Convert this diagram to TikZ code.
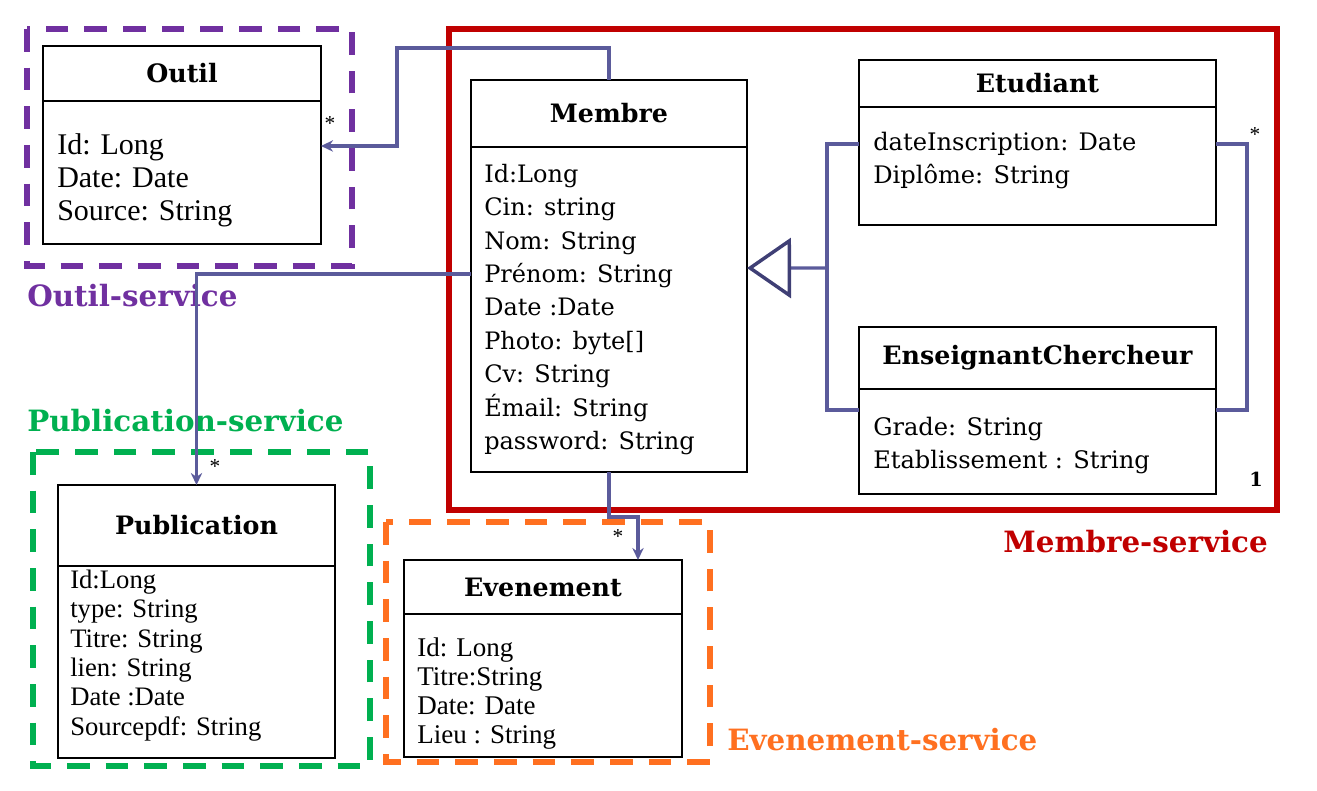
\documentclass[tikz,border=0pt]{standalone}
\usepackage{fontspec}
\setmainfont{Liberation Serif}
\newfontfamily\titlefont{DejaVu Serif}
\usetikzlibrary{arrows.meta,positioning}

\definecolor{colOutil}{HTML}{7030A0}
\definecolor{colMembre}{HTML}{C00000}
\definecolor{colPubl}{HTML}{00B050}
\definecolor{colEvt}{HTML}{FF7020}
\definecolor{colLien}{HTML}{5B5B9B}
\definecolor{colTri}{HTML}{3F3F75}

\begin{document}
\begin{tikzpicture}[x=0.75pt,y=-0.75pt,>={Stealth[length=9pt,width=8.5pt]},
	titre/.style={draw,line width=1.8pt,outer sep=0pt,inner sep=0pt,font=\titlefont\bfseries\fontsize{19}{22}\selectfont},
	corps/.style={draw,line width=1.8pt,outer sep=0pt,inner sep=0pt},
	attr/.style={anchor=west,align=left,inner sep=0pt},
	service/.style={line width=5.2pt,dash pattern=on 17pt off 12pt},
	lien/.style={draw=colLien,line width=2.5pt},
	etiq/.style={inner sep=0pt,font=\titlefont\bfseries\fontsize{22}{25}\selectfont},
	mult/.style={inner sep=0pt,font=\fontsize{16}{17}\selectfont}]

		\useasboundingbox (0,0) rectangle (1317,791);

		\draw[service,draw=colOutil] (27,29) rectangle (352,266);
		\draw[service,draw=colPubl] (33,452) rectangle (370,766);
		\draw[service,draw=colEvt] (386,522) rectangle (710,762);
		\draw[draw=colMembre,line width=5.2pt] (449,29) rectangle (1277,510);

		\node[titre,minimum width=208.5pt,minimum height=41.25pt] (outil) at (182,73.5) {Outil};
		\node[corps,minimum width=208.5pt,minimum height=107.25pt,below=0pt of outil] (outilbody) {};
		\node[attr,font=\fontsize{22.5}{24.75}\selectfont] (outiltxt) at ([xshift=10.5pt,yshift=-5.6pt]outilbody.west) {Id: Long\\Date: Date\\Source: String};

		\node[titre,minimum width=207pt,minimum height=50.25pt] (membre) at (609,113.5) {Membre};
		\node[corps,minimum width=207pt,minimum height=243.75pt,below=0pt of membre] (membrebody) {};
		\node[attr,font=\titlefont\fontsize{18}{25.1}\selectfont] (membretxt) at ([xshift=9.75pt]membrebody.west) {Id:Long\\Cin: string\\Nom: String\\Prénom: String\\Date :Date\\Photo: byte[]\\Cv: String\\Émail: String\\password: String};

		\node[titre,minimum width=267.75pt,minimum height=35.25pt] (etud) at (1037.5,83.5) {Etudiant};
		\node[corps,minimum width=267.75pt,minimum height=88.5pt,below=0pt of etud] (etudbody) {};
		\node[attr,font=\titlefont\fontsize{18.1}{24.75}\selectfont] (etudtxt) at ([xshift=10.5pt,yshift=4.1pt]etudbody.west) {dateInscription: Date\\Diplôme: String};

		\node[titre,minimum width=267.75pt,minimum height=46.5pt] (enseign) at (1037.5,358) {EnseignantChercheur};
		\node[corps,minimum width=267.75pt,minimum height=78.75pt,below=0pt of enseign] (enseignbody) {};
		\node[attr,font=\titlefont\fontsize{18.1}{24.75}\selectfont] (enseigntxt) at ([xshift=10.5pt,yshift=-3pt]enseignbody.west) {Grade: String\\Etablissement : String};

		\node[titre,minimum width=207.75pt,minimum height=60.75pt] (publ) at (196.5,525.5) {Publication};
		\node[corps,minimum width=207.75pt,minimum height=144pt,below=0pt of publ] (publbody) {};
		\node[attr,font=\fontsize{20}{22}\selectfont] (publtxt) at ([xshift=9pt,yshift=4.9pt]publbody.west) {Id:Long\\type: String\\Titre: String\\lien: String\\Date :Date\\Sourcepdf: String};

		\node[titre,minimum width=208.5pt,minimum height=40.5pt] (evt) at (543,587) {Evenement};
		\node[corps,minimum width=208.5pt,minimum height=107.25pt,below=0pt of evt] (evtbody) {};
		\node[attr,font=\fontsize{20.25}{21.75}\selectfont] (evttxt) at ([xshift=9.75pt,yshift=-6pt]evtbody.west) {Id: Long\\Titre:String\\Date: Date\\Lieu : String};

		\node[etiq,text=colOutil,anchor=west] (lbloutil) at (27,296) {Outil-service};
		\node[etiq,text=colPubl,anchor=west] (lblpubl) at (27,421) {Publication-service};
		\node[etiq,text=colMembre,anchor=east] (lblmembre) at (1268,542) {Membre-service};
		\node[etiq,text=colEvt,anchor=west] (lblevt) at (727,740) {Evenement-service};

		\coordinate (fork) at (827,268);

		\draw[lien,->] (membre.north) |- (397,48) |- ([yshift=19.9pt]outilbody.east);
		\draw[lien,->] ([yshift=26.6pt]membrebody.west) -| (publ.north);
		\draw[lien,->] (membrebody.south) -- ++(0,45) -| ([xshift=71.25pt]evt.north);
		\draw[lien] ([yshift=16.5pt]etudbody.west) -| (fork) |- ([yshift=23.6pt]enseignbody.west);
		\draw[lien,-{Triangle[open,length=33pt,width=45pt,color=colTri,line width=2.6pt]}] (fork) -- ([yshift=31.1pt]membrebody.east);
		\draw[lien] ([yshift=16.5pt]etudbody.east) -- ++(31,0) |- ([yshift=23.6pt]enseignbody.east);

		\node[mult] (m1) at (330,124) {*};
		\node[mult] (m2) at (215,467) {*};
		\node[mult] (m3) at (618,537) {*};
		\node[mult] (m4) at (1255,135) {*};
		\node[inner sep=0pt,font=\titlefont\bfseries\fontsize{14.5}{16}\selectfont] (m5) at (1256,479) {1};
\end{tikzpicture}
\end{document}
